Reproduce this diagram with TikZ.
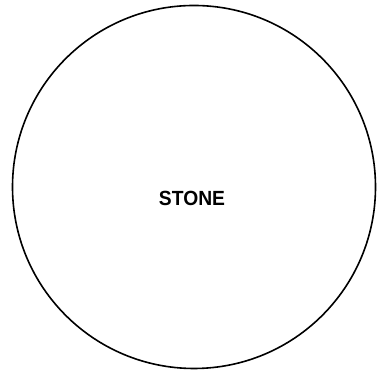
\documentclass[tikz,border=0pt]{standalone}
\usepackage{fontspec}
\setmainfont{Liberation Sans}
\begin{document}
\begin{tikzpicture}[x=1pt,y=1pt,
  outline/.style={draw=black,line width=1.6pt},
  label/.style={font=\fontsize{20.5}{24}\selectfont\bfseries,inner sep=0pt,anchor=base,xscale=0.94}]
\useasboundingbox (0,0) rectangle (381,371);
\node[outline,circle,minimum size=363pt,inner sep=0pt] (stone) at (194,184) {};
\node[label] (txt) at (192,165.5) {STONE};
\end{tikzpicture}
\end{document}
